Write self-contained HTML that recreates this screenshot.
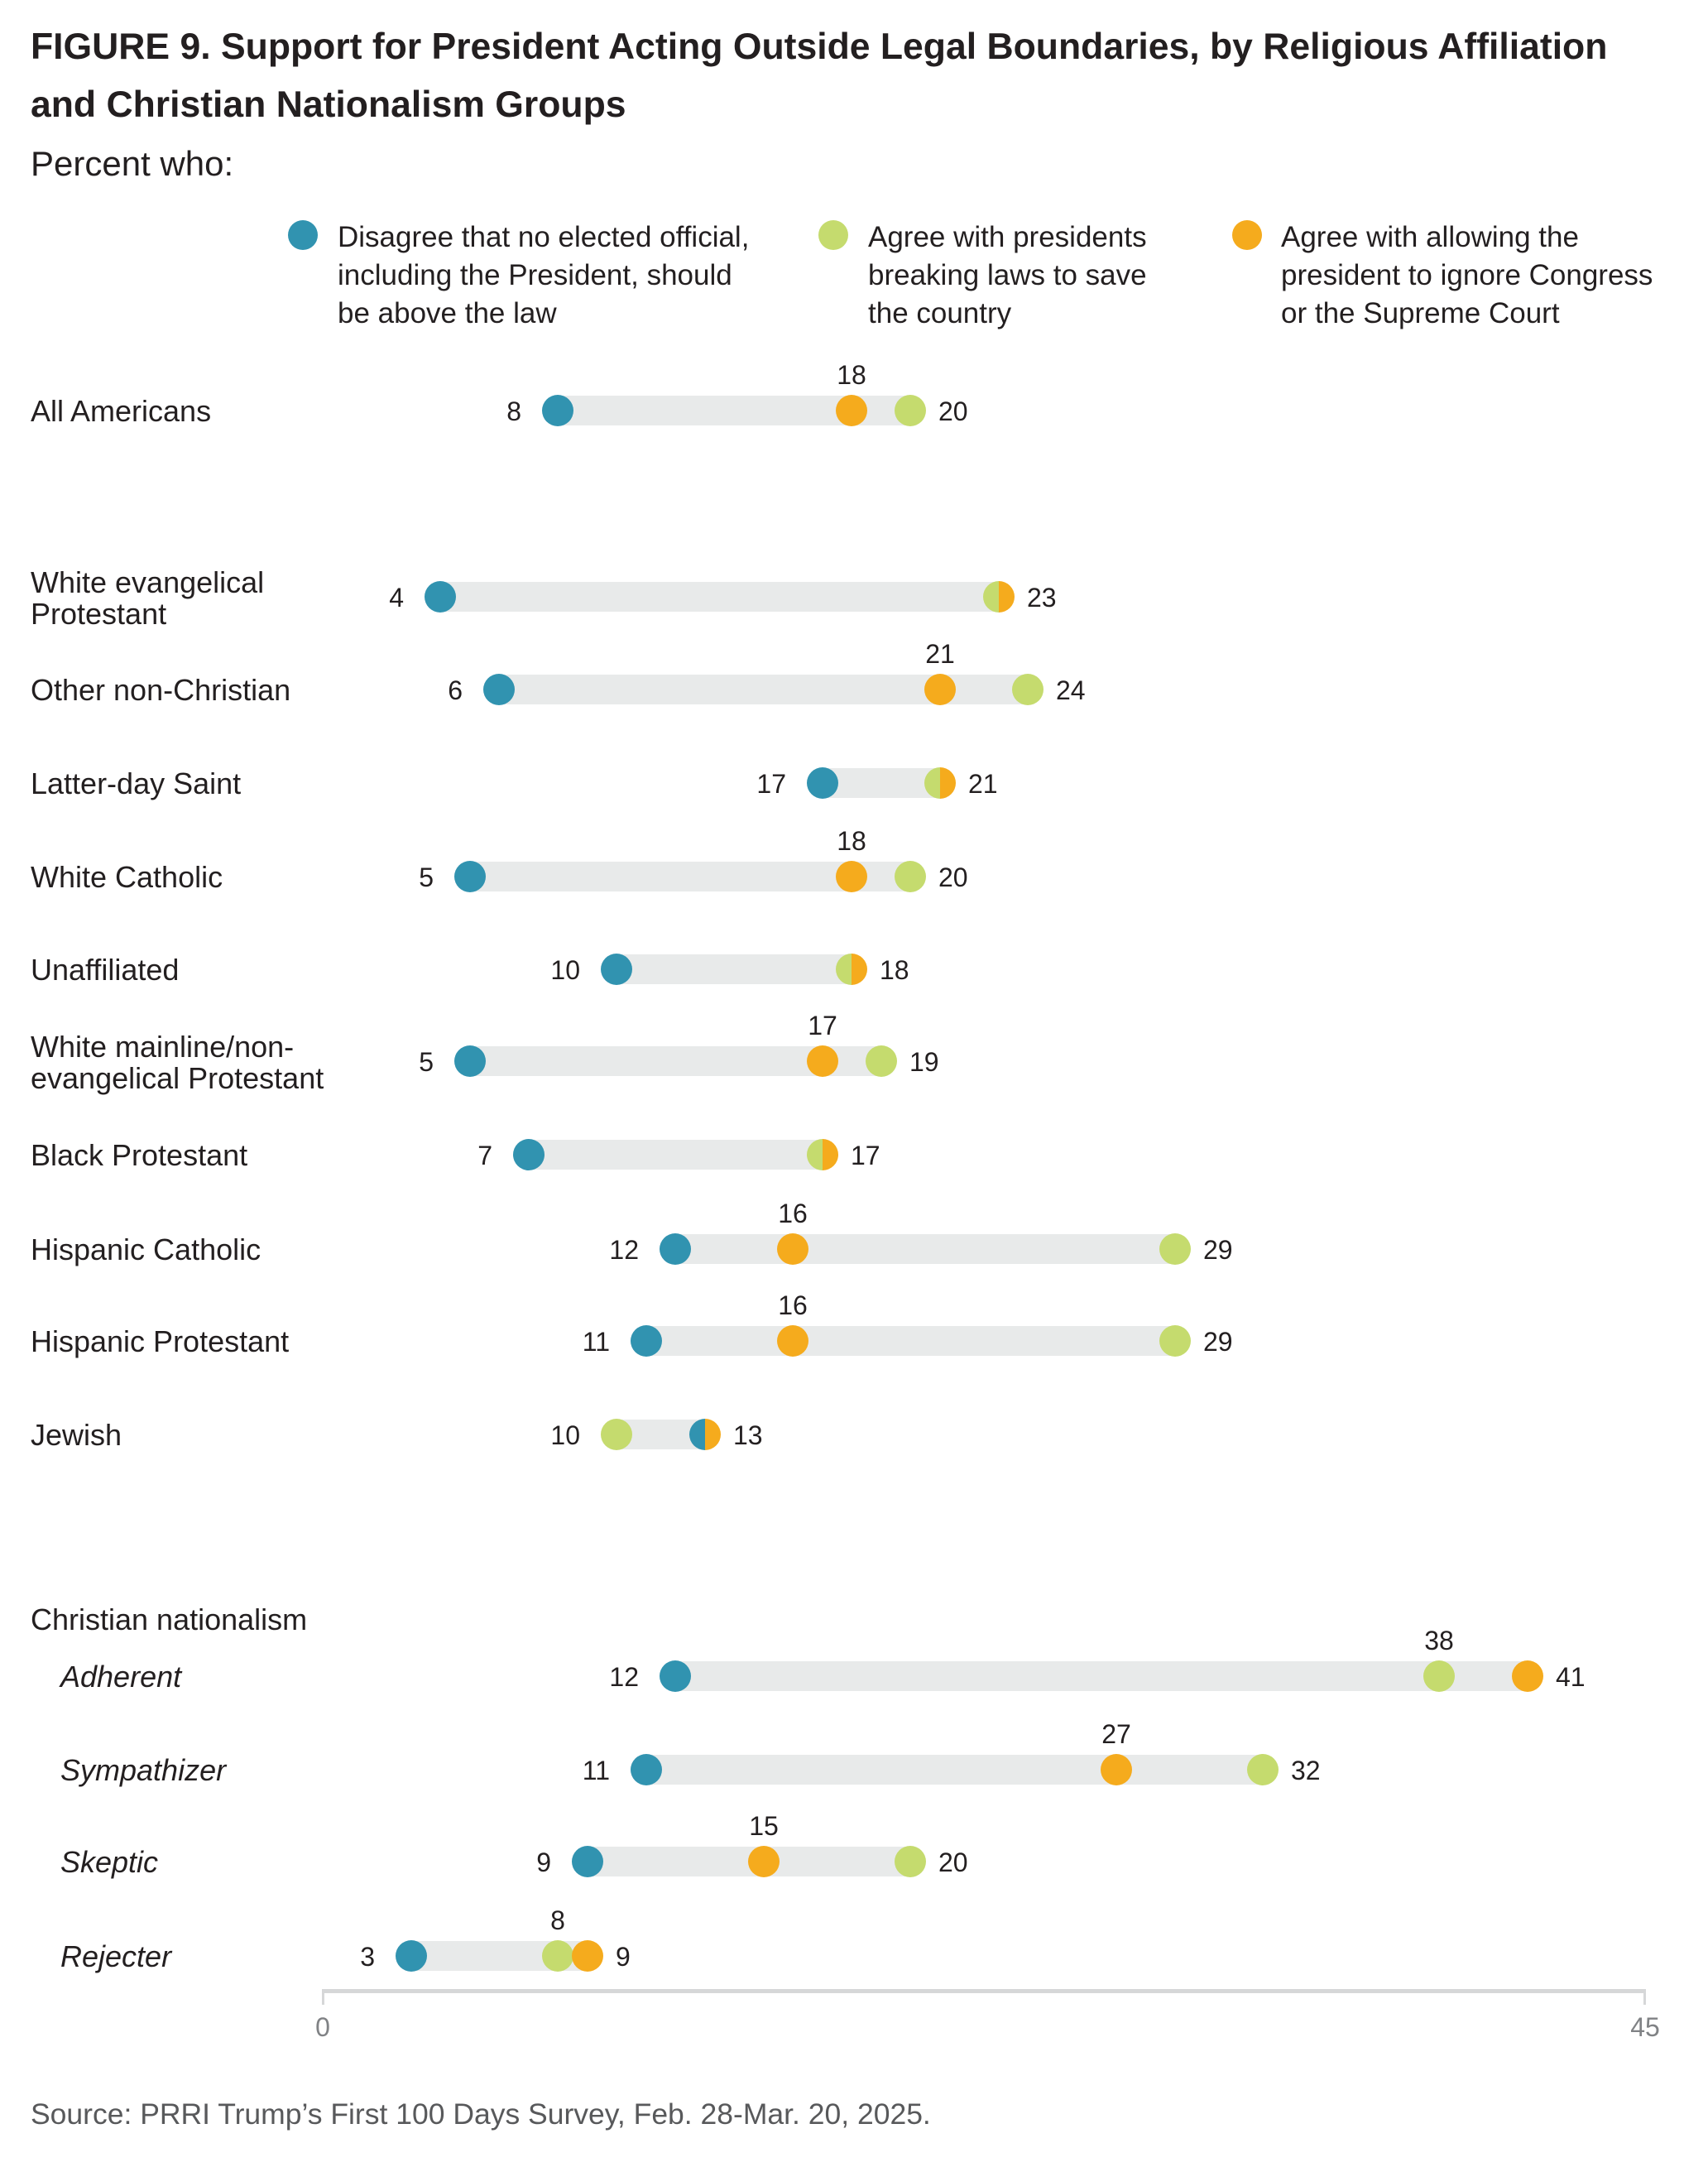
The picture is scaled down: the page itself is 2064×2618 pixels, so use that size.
<!DOCTYPE html>
<html><head><meta charset="utf-8"><style>
body{margin:0;background:#fff}
svg{display:block}
text{font-family:"Liberation Sans",sans-serif;fill:#231f20}
.t{font-size:44.5px;font-weight:bold}
.l{font-size:36px}
.v{font-size:32px}
.lg{font-size:35px}
</style></head><body>
<svg width="2064" height="2618" viewBox="0 0 2064 2618" xmlns="http://www.w3.org/2000/svg">
<defs>
<clipPath id="L"><rect x="-30" y="-30" width="30" height="60"/></clipPath>
<clipPath id="R"><rect x="0" y="-30" width="30" height="60"/></clipPath>
</defs>
<text class="t" x="37" y="71">FIGURE 9.  Support for President Acting Outside Legal Boundaries, by Religious Affiliation</text>
<text class="t" x="37" y="141">and Christian Nationalism Groups</text>
<text x="37" y="212" style="font-size:42px">Percent who:</text>

<circle cx="366" cy="284" r="18" fill="#3193b0"/>
<circle cx="1007" cy="284" r="18" fill="#c5db6e"/>
<circle cx="1507" cy="284" r="18" fill="#f5ab1d"/>
<text x="408" y="298" class="lg">Disagree that no elected official,</text>
<text x="408" y="344" class="lg">including the President, should</text>
<text x="408" y="390" class="lg">be above the law</text>
<text x="1049" y="298" class="lg">Agree with presidents</text>
<text x="1049" y="344" class="lg">breaking laws to save</text>
<text x="1049" y="390" class="lg">the country</text>
<text x="1548" y="298" class="lg">Agree with allowing the</text>
<text x="1548" y="344" class="lg">president to ignore Congress</text>
<text x="1548" y="390" class="lg">or the Supreme Court</text>

<text class="l" x="37" y="509">All Americans</text>
<text class="l" x="37" y="716">White evangelical</text>
<text class="l" x="37" y="754">Protestant</text>
<text class="l" x="37" y="846">Other non-Christian</text>
<text class="l" x="37" y="959">Latter-day Saint</text>
<text class="l" x="37" y="1072">White Catholic</text>
<text class="l" x="37" y="1184">Unaffiliated</text>
<text class="l" x="37" y="1277">White mainline/non-</text>
<text class="l" x="37" y="1315">evangelical Protestant</text>
<text class="l" x="37" y="1408">Black Protestant</text>
<text class="l" x="37" y="1522">Hispanic Catholic</text>
<text class="l" x="37" y="1633">Hispanic Protestant</text>
<text class="l" x="37" y="1746">Jewish</text>
<text class="l" x="37" y="1969">Christian nationalism</text>
<text class="l" x="73" y="2038" font-style="italic">Adherent</text>
<text class="l" x="73" y="2151" font-style="italic">Sympathizer</text>
<text class="l" x="73" y="2262" font-style="italic">Skeptic</text>
<text class="l" x="73" y="2376" font-style="italic">Rejecter</text>

<g fill="#e8eaea">
<rect x="674" y="478" width="426" height="36"/>
<rect x="532" y="703" width="675" height="36"/>
<rect x="603" y="815" width="639" height="36"/>
<rect x="994" y="928" width="142" height="36"/>
<rect x="568" y="1041" width="532" height="36"/>
<rect x="745" y="1153" width="284" height="36"/>
<rect x="568" y="1264" width="497" height="36"/>
<rect x="639" y="1377" width="355" height="36"/>
<rect x="816" y="1491" width="604" height="36"/>
<rect x="781" y="1602" width="639" height="36"/>
<rect x="745" y="1715" width="107" height="36"/>
<rect x="816" y="2007" width="1030" height="36"/>
<rect x="781" y="2120" width="745" height="36"/>
<rect x="710" y="2231" width="390" height="36"/>
<rect x="497" y="2345" width="213" height="36"/>
</g>

<g>
<circle cx="674" cy="496" r="19" fill="#3193b0"/><circle cx="1100" cy="496" r="19" fill="#c5db6e"/><circle cx="1029" cy="496" r="19" fill="#f5ab1d"/>
<circle cx="532" cy="721" r="19" fill="#3193b0"/>
<g transform="translate(1207,721)"><circle r="19" fill="#c5db6e" clip-path="url(#L)"/><circle r="19" fill="#f5ab1d" clip-path="url(#R)"/></g>
<circle cx="603" cy="833" r="19" fill="#3193b0"/><circle cx="1242" cy="833" r="19" fill="#c5db6e"/><circle cx="1136" cy="833" r="19" fill="#f5ab1d"/>
<circle cx="994" cy="946" r="19" fill="#3193b0"/>
<g transform="translate(1136,946)"><circle r="19" fill="#c5db6e" clip-path="url(#L)"/><circle r="19" fill="#f5ab1d" clip-path="url(#R)"/></g>
<circle cx="568" cy="1059" r="19" fill="#3193b0"/><circle cx="1100" cy="1059" r="19" fill="#c5db6e"/><circle cx="1029" cy="1059" r="19" fill="#f5ab1d"/>
<circle cx="745" cy="1171" r="19" fill="#3193b0"/>
<g transform="translate(1029,1171)"><circle r="19" fill="#c5db6e" clip-path="url(#L)"/><circle r="19" fill="#f5ab1d" clip-path="url(#R)"/></g>
<circle cx="568" cy="1282" r="19" fill="#3193b0"/><circle cx="1065" cy="1282" r="19" fill="#c5db6e"/><circle cx="994" cy="1282" r="19" fill="#f5ab1d"/>
<circle cx="639" cy="1395" r="19" fill="#3193b0"/>
<g transform="translate(994,1395)"><circle r="19" fill="#c5db6e" clip-path="url(#L)"/><circle r="19" fill="#f5ab1d" clip-path="url(#R)"/></g>
<circle cx="816" cy="1509" r="19" fill="#3193b0"/><circle cx="1420" cy="1509" r="19" fill="#c5db6e"/><circle cx="958" cy="1509" r="19" fill="#f5ab1d"/>
<circle cx="781" cy="1620" r="19" fill="#3193b0"/><circle cx="1420" cy="1620" r="19" fill="#c5db6e"/><circle cx="958" cy="1620" r="19" fill="#f5ab1d"/>
<circle cx="745" cy="1733" r="19" fill="#c5db6e"/>
<g transform="translate(852,1733)"><circle r="19" fill="#3193b0" clip-path="url(#L)"/><circle r="19" fill="#f5ab1d" clip-path="url(#R)"/></g>
<circle cx="816" cy="2025" r="19" fill="#3193b0"/><circle cx="1739" cy="2025" r="19" fill="#c5db6e"/><circle cx="1846" cy="2025" r="19" fill="#f5ab1d"/>
<circle cx="781" cy="2138" r="19" fill="#3193b0"/><circle cx="1526" cy="2138" r="19" fill="#c5db6e"/><circle cx="1349" cy="2138" r="19" fill="#f5ab1d"/>
<circle cx="710" cy="2249" r="19" fill="#3193b0"/><circle cx="1100" cy="2249" r="19" fill="#c5db6e"/><circle cx="923" cy="2249" r="19" fill="#f5ab1d"/>
<circle cx="497" cy="2363" r="19" fill="#3193b0"/><circle cx="674" cy="2363" r="19" fill="#c5db6e"/><circle cx="710" cy="2363" r="19" fill="#f5ab1d"/>
</g>

<g text-anchor="end">
<text class="v" x="630" y="508">8</text>
<text class="v" x="488" y="733">4</text>
<text class="v" x="559" y="845">6</text>
<text class="v" x="950" y="958">17</text>
<text class="v" x="524" y="1071">5</text>
<text class="v" x="701" y="1183">10</text>
<text class="v" x="524" y="1294">5</text>
<text class="v" x="595" y="1407">7</text>
<text class="v" x="772" y="1521">12</text>
<text class="v" x="737" y="1632">11</text>
<text class="v" x="701" y="1745">10</text>
<text class="v" x="772" y="2037">12</text>
<text class="v" x="737" y="2150">11</text>
<text class="v" x="666" y="2261">9</text>
<text class="v" x="453" y="2375">3</text>
</g>
<text class="v" x="1134" y="508">20</text>
<text class="v" x="1241" y="733">23</text>
<text class="v" x="1276" y="845">24</text>
<text class="v" x="1170" y="958">21</text>
<text class="v" x="1134" y="1071">20</text>
<text class="v" x="1063" y="1183">18</text>
<text class="v" x="1099" y="1294">19</text>
<text class="v" x="1028" y="1407">17</text>
<text class="v" x="1454" y="1521">29</text>
<text class="v" x="1454" y="1632">29</text>
<text class="v" x="886" y="1745">13</text>
<text class="v" x="1880" y="2037">41</text>
<text class="v" x="1560" y="2150">32</text>
<text class="v" x="1134" y="2261">20</text>
<text class="v" x="744" y="2375">9</text>
<g text-anchor="middle">
<text class="v" x="1029" y="464">18</text>
<text class="v" x="1136" y="801">21</text>
<text class="v" x="1029" y="1027">18</text>
<text class="v" x="994" y="1250">17</text>
<text class="v" x="958" y="1477">16</text>
<text class="v" x="958" y="1588">16</text>
<text class="v" x="1739" y="1993">38</text>
<text class="v" x="1349" y="2106">27</text>
<text class="v" x="923" y="2217">15</text>
<text class="v" x="674" y="2331">8</text>
</g>

<rect x="390" y="2403" width="1598" height="5" fill="#d6d7d8"/>
<rect x="389" y="2403" width="3" height="19" fill="#d6d7d8"/>
<rect x="1986" y="2403" width="3" height="19" fill="#d6d7d8"/>
<text x="390" y="2460" text-anchor="middle" style="font-size:32px;fill:#808285">0</text>
<text x="1988" y="2460" text-anchor="middle" style="font-size:32px;fill:#808285">45</text>

<text x="37" y="2566" style="font-size:35.5px;fill:#58595b">Source: PRRI Trump’s First 100 Days Survey, Feb. 28-Mar. 20, 2025.</text>
</svg>
</body></html>
